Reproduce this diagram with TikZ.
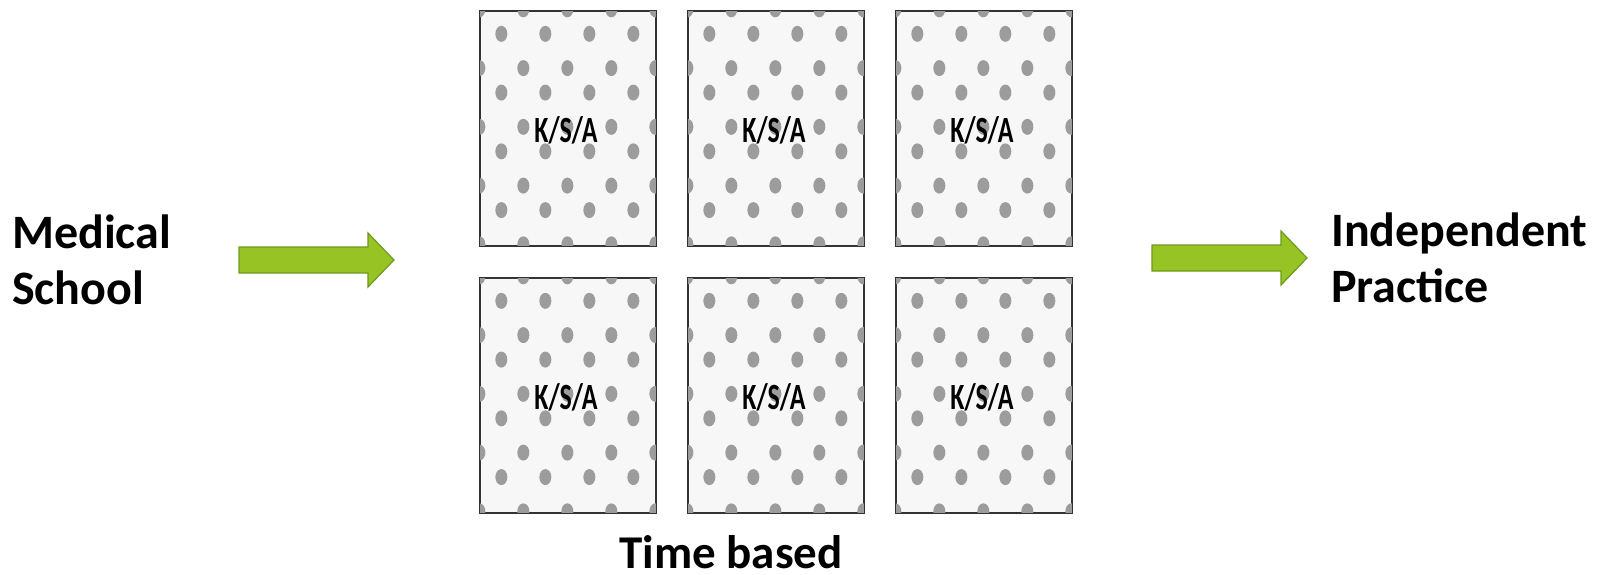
\documentclass[tikz,border=0pt]{standalone}
\usepackage{fontspec}
\setmainfont{Carlito}
\newfontfamily\ksafont[FakeStretch=0.7]{Carlito}
\usetikzlibrary{positioning}
\usetikzlibrary{shadings}

\definecolor{arrowgreen}{HTML}{97C424}
\definecolor{arrowedge}{HTML}{6E9A1E}
\definecolor{dotgray}{HTML}{9C9C9C}
\definecolor{boxfill}{HTML}{F7F7F7}
\definecolor{boxedge}{HTML}{333333}

\pgfdeclareradialshading{bgfade}{\pgfpoint{0bp}{0bp}}{color(0bp)=(white); color(14bp)=(white); color(23bp)=(black!11); color(50bp)=(black!11)}

\tikzset{
  ksabox/.style={draw=boxedge,line width=1.3pt,fill=boxfill,minimum width=176pt,minimum height=235pt,inner sep=0pt},
  ksadot/.style={fill=dotgray},
  ksalabel/.style={font=\fontsize{37}{40}\ksafont\bfseries,inner sep=0pt,anchor=base},
  bigtext/.style={font=\fontsize{48}{56}\selectfont\bfseries,align=left,inner sep=0pt,anchor=base west},
  greenarrow/.style={fill=arrowgreen,draw=arrowedge,line width=1.2pt,line join=miter}
}

\begin{document}
\begin{tikzpicture}[x=1pt,y=-1pt]

\useasboundingbox (0,0) rectangle (1600,575);
\begin{scope}
\clip (0,0) rectangle (1600,575);
\shade[shading=bgfade] (700,-300) circle (2600);
\end{scope}

% base of a two-line node is the last line
\node[bigtext] (medschool) at (12,304) {Medical\\School};
\node[bigtext] (indprac) at (1331,302) {Independent\\Practice};
\node[font=\fontsize{47}{52}\selectfont\bfseries,inner sep=0pt,anchor=base] (timebased) at (731,568) {Time based};

% the six K/S/A boxes
\foreach \r in {0,1}{
  \foreach \c in {0,1,2}{
    \node[ksabox] (ksa\r\c) at ({568+208*\c},{128.5+267*\r}) {};
    \begin{scope}
      \clip (ksa\r\c.north west) rectangle (ksa\r\c.south east);
      \foreach \j in {0,...,4}
        \foreach \k in {0,...,4}
          \fill[ksadot] ([shift={(44*\j,58.75*\k-1)}]ksa\r\c.north west) ellipse (6 and 8);
      \foreach \j in {0,...,3}
        \foreach \k in {0,...,3}
          \fill[ksadot] ([shift={(22+44*\j,23.5+58.75*\k)}]ksa\r\c.north west) ellipse (6 and 8);
    \end{scope}
    \draw[draw=boxedge,line width=1.3pt] (ksa\r\c.north west) rectangle (ksa\r\c.south east);
    \node[ksalabel] (lbl\r\c) at ([shift={(-2,132)}]ksa\r\c.north) {K/S/A};
  }
}

% block arrows
\coordinate (inarrow) at (239,247);
\coordinate (outarrow) at (1152,245);
\foreach \a in {inarrow,outarrow}
  \draw[greenarrow] (\a) -- ++(129,0) -- ++(0,-14) -- ++(26,27) -- ++(-26,27) -- ++(0,-14) -- ++(-129,0) -- cycle;

\end{tikzpicture}
\end{document}
